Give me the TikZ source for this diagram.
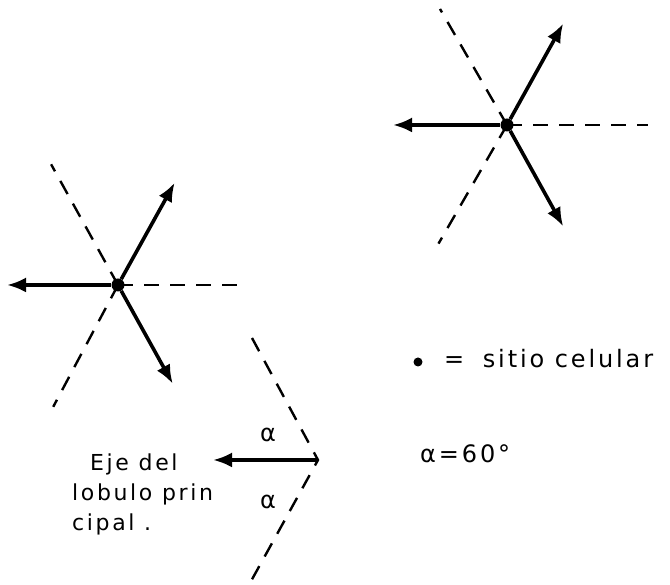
\documentclass[tikz,border=0pt]{standalone}
\usepackage{fontspec}
\setmainfont{DejaVu Sans}[LetterSpace=12]
\usetikzlibrary{arrows.meta,positioning,calc}

\begin{document}
\begin{tikzpicture}[
  x=1pt, y=1pt,
  font=\fontsize{24}{30}\selectfont,
  site/.style={circle, fill, inner sep=0pt, minimum size=13pt},
  lobe/.style={-{Latex[length=19pt,width=15pt]}, line width=3.6pt},
  border/.style={dash pattern=on 15pt off 11pt, line width=2.4pt},
  lbl/.style={inner sep=0pt, align=left}
]
\useasboundingbox (0,0) rectangle (670,585);

% sitio celular de arriba
\node[site] (sa) at (507,460) {};
\coordinate (sa-l)  at ($(sa)+(180:114)$);
\coordinate (sa-ur) at ($(sa)+(61:116)$);
\coordinate (sa-dr) at ($(sa)+(-61:116)$);
\coordinate (sa-ul) at ($(sa)+(120:134)$);
\coordinate (sa-dl) at ($(sa)+(240:137)$);
\coordinate (sa-r)  at ($(sa)+(0:141)$);
\draw[border] (sa.center) -- (sa-ul);
\draw[border] (sa.center) -- (sa-dl);
\draw[border] (sa.center) -- (sa-r);
\draw[lobe] (sa) -- (sa-l);
\draw[lobe] (sa) -- (sa-ur);
\draw[lobe] (sa) -- (sa-dr);

% sitio celular de abajo
\node[site] (sb) at (118,300) {};
\coordinate (sb-l)  at ($(sb)+(180:111)$);
\coordinate (sb-ur) at ($(sb)+(61:117)$);
\coordinate (sb-dr) at ($(sb)+(-61:113)$);
\coordinate (sb-ul) at ($(sb)+(119:138)$);
\coordinate (sb-dl) at ($(sb)+(242:138)$);
\coordinate (sb-r)  at ($(sb)+(0:130)$);
\draw[border] (sb.center) -- (sb-ul);
\draw[border] (sb.center) -- (sb-dl);
\draw[border] (sb.center) -- (sb-r);
\draw[lobe] (sb) -- (sb-l);
\draw[lobe] (sb) -- (sb-ur);
\draw[lobe] (sb) -- (sb-dr);

% detalle del angulo
\coordinate (v) at (318,125);
\coordinate (v-tip) at (213,125);
\coordinate (v-up) at (252,247);
\coordinate (v-dn) at (250,2);
\draw[border] (v-up) -- (v) -- (v-dn);
\draw[lobe] (v) -- (v-tip);
\node (al-up) at (268,150) {α};
\node (al-dn) at (268,83) {α};
\node[lbl, anchor=north west, font=\fontsize{22}{30}\selectfont] (eje) at (72,131)
  {\hspace*{18pt}Eje del\\lobulo prin\\cipal .};

% leyenda
\node[site, minimum size=9pt] (dot) at (418,223) {};
\node[lbl, anchor=base west] (leg) at (444,217) {=\hspace{8pt} sitio celular};
\node[lbl, anchor=base west] (ang) at (420,122) {α=60°};
\end{tikzpicture}
\end{document}
